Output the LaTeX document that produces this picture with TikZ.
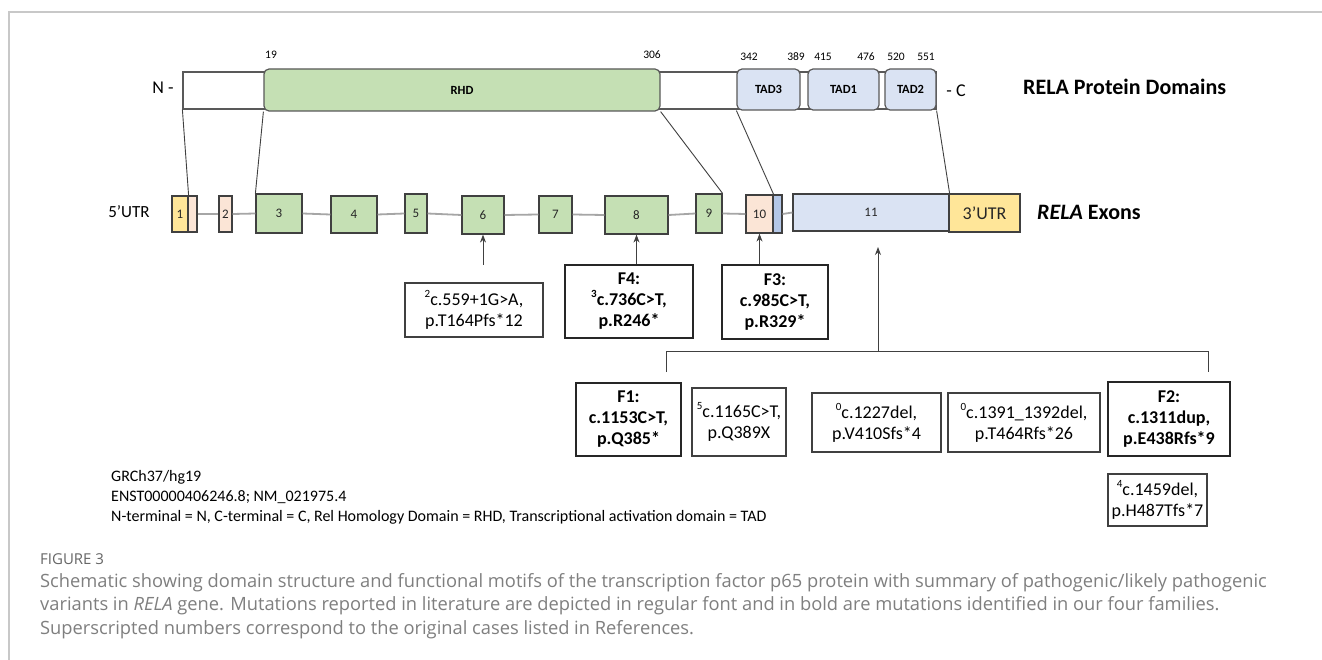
\documentclass[tikz,border=0pt]{standalone}
\usepackage{fontspec}
\setmainfont{Carlito}
\newfontfamily\capfont{Open Sans}
\usetikzlibrary{arrows.meta}

\definecolor{exgreen}{HTML}{C5E0B4}
\definecolor{exblue}{HTML}{DAE3F3}
\definecolor{exbluedark}{HTML}{B4C7E7}
\definecolor{expink}{HTML}{FBE5D6}
\definecolor{exyellow}{HTML}{FFE699}
\definecolor{edge}{HTML}{404040}
\definecolor{domedge}{HTML}{595959}
\definecolor{introngray}{HTML}{A6A6A6}
\definecolor{framegray}{HTML}{C8C8C8}
\definecolor{capgray}{HTML}{7F7F7F}

\newcommand\refno[1]{\raisebox{0.45em}{\fontsize{11}{11}\selectfont #1}}

\begin{document}
\begin{tikzpicture}[x=1pt,y=-1pt,
  exon/.style={draw=edge, line width=1.2pt, inner sep=0pt,
    font=\fontsize{13}{13}\selectfont, text=black!85},
  dom/.style={draw=domedge, fill=exblue, rounded corners=5pt, line width=1.2pt,
    inner sep=0pt, font=\bfseries\fontsize{12.5}{13}\selectfont},
  mut/.style={draw=edge, line width=1.1pt, align=center, inner sep=0pt,
    font=\fontsize{18}{21}\selectfont},
  fam/.style={mut, draw=black!85, line width=1.6pt,
    font=\bfseries\fontsize{18}{21}\selectfont},
  link/.style={draw=edge, line width=0.9pt},
  arr/.style={link, -{Stealth[length=8pt,width=6pt]}},
  num/.style={font=\fontsize{11.5}{12}\selectfont, inner sep=0pt},
  intron/.style={draw=introngray, line width=1.8pt},
  note/.style={anchor=west, inner sep=0pt, font=\fontsize{16}{19}\selectfont},
  captext/.style={anchor=west, inner sep=0pt, text=capgray,
    font=\capfont\fontsize{18.3}{21}\selectfont}]

\useasboundingbox (0,0) rectangle (1322,660);
\fill[white] (0,0) rectangle (1322,660);
% page frame
\draw[framegray, line width=1.5pt] (9,660) -- (9,12) -- (1322,12);

% ---------- protein domains ----------
\node[draw=domedge, fill=white, line width=1.2pt, minimum width=753pt,
  minimum height=37pt, inner sep=0pt] (bar) at (559.5,90.5) {};
\node[dom, fill=exgreen, minimum width=396pt, minimum height=42pt] (rhd) at (462,90) {RHD};
\node[dom, minimum width=63pt, minimum height=41pt] (tad3) at (768.5,89.5) {TAD3};
\node[dom, minimum width=71pt, minimum height=41pt] (tad1) at (843.5,89.5) {TAD1};
\node[dom, minimum width=51pt, minimum height=41pt] (tad2) at (910.5,89.5) {TAD2};

\node[font=\fontsize{18}{18}\selectfont, inner sep=0pt] (nterm) at (163,88) {N -};
\node[font=\fontsize{18}{18}\selectfont, inner sep=0pt] (cterm) at (956,91) {- C};
\node[anchor=west, inner sep=0pt, font=\bfseries\fontsize{22}{22}\selectfont] (ptitle)
  at (1023,87) {RELA Protein Domains};

\node[num] (p19)  at (271,55) {19};
\node[num] (p306) at (652,55) {306};
\node[num] (p342) at (749,57) {342};
\node[num] (p389) at (796,57) {389};
\node[num] (p415) at (823,57) {415};
\node[num] (p476) at (866,57) {476};
\node[num] (p520) at (896,57) {520};
\node[num] (p551) at (926,57) {551};

% ---------- exons ----------
\node[exon, fill=exyellow, minimum width=16pt, minimum height=36pt] (e1a) at (180,214) {1};
\node[exon, fill=expink, minimum width=9pt, minimum height=36pt] (e1b) at (192.5,214) {};
\node[exon, fill=expink, minimum width=13pt, minimum height=36pt] (e2) at (225.5,214) {2};
\node[exon, fill=exgreen, minimum width=46pt, minimum height=39pt] (e3) at (279,213.5) {3};
\node[exon, fill=exgreen, minimum width=46pt, minimum height=37pt] (e4) at (354,214.5) {4};
\node[exon, fill=exgreen, minimum width=22pt, minimum height=39pt] (e5) at (416,213.5) {5};
\node[exon, fill=exgreen, minimum width=42pt, minimum height=38pt] (e6) at (483,215) {6};
\node[exon, fill=exgreen, minimum width=33pt, minimum height=37pt] (e7) at (555.5,214.5) {7};
\node[exon, fill=exgreen, minimum width=63pt, minimum height=38pt] (e8) at (636.5,215) {8};
\node[exon, fill=exgreen, minimum width=26pt, minimum height=39pt] (e9) at (709,213.5) {9};
\node[exon, fill=expink, minimum width=27pt, minimum height=38pt] (e10a) at (759.5,214) {10};
\node[exon, fill=exbluedark, minimum width=9pt, minimum height=38pt] (e10b) at (777.5,214) {};
\node[exon, fill=exblue, minimum width=156pt, minimum height=37pt] (e11) at (871,212.5) {11};
\node[exon, fill=exyellow, minimum width=71pt, minimum height=38pt,
  font=\fontsize{18}{18}\selectfont] (utr3) at (984.5,213) {3’UTR};

% introns
\draw[intron] (e1b.east) -- (e2.west);
\draw[intron] (e2.east) -- (e3.west);
\draw[intron] (e3.east) -- (e4.west);
\draw[intron] (e4.east) -- (e5.west);
\draw[intron] (e5.east) -- (e6.west);
\draw[intron] (e6.east) -- (e7.west);
\draw[intron] (e7.east) -- (e8.west);
\draw[intron] (e8.east) -- (e9.west);
\draw[intron] (e9.east) -- (e10a.west);
\draw[intron] (e10b.east) -- (e11.west);

\node[font=\fontsize{17}{17}\selectfont, inner sep=0pt] (utr5) at (129,212) {5’UTR};
\node[anchor=west, inner sep=0pt, font=\bfseries\fontsize{22}{22}\selectfont] (etitle)
  at (1037,212) {\textit{RELA} Exons};

% domain-to-exon correspondences
\draw[link] (bar.south west) -- (e1a.north east);
\draw[link] (rhd.south west) -- (e3.north west);
\draw[link] (rhd.south east) -- (e9.north east);
\draw[link] (tad3.south west) -- (e10a.north east);
\draw[link] (tad2.south east) -- (e11.north east);

% ---------- variants ----------
\node[mut, minimum width=138pt, minimum height=54pt] (m6) at (474,310)
  {\refno{2}c.559+1G>A,\\p.T164Pfs*12};
\node[fam, minimum width=128pt, minimum height=73pt] (f4) at (629,301.5)
  {F4:\\\refno{3}c.736C>T,\\p.R246*};
\node[fam, minimum width=106pt, minimum height=74pt] (f3) at (775,302)
  {F3:\\c.985C>T,\\p.R329*};

\coordinate (a6) at (483,265);
\draw[arr] (a6) -- (e6.south);
\draw[arr] (f4.north -| e8.south) -- (e8.south);
\draw[arr] (f3.north -| e10a.south) -- (e10a.south);

\node[fam, minimum width=105pt, minimum height=73pt] (f1) at (628.5,419.5)
  {F1:\\c.1153C>T,\\p.Q385*};
\node[mut, minimum width=94pt, minimum height=68pt] (m5) at (739,422)
  {\refno{5}c.1165C>T,\\p.Q389X};
\node[mut, minimum width=129pt, minimum height=59pt] (m0a) at (876.5,422.5)
  {\refno{0}c.1227del,\\p.V410Sfs*4};
\node[mut, minimum width=152pt, minimum height=59pt] (m0b) at (1024,422.5)
  {\refno{0}c.1391\_1392del,\\p.T464Rfs*26};
\node[fam, minimum width=122pt, minimum height=74pt] (f2) at (1169,419)
  {F2:\\c.1311dup,\\p.E438Rfs*9};
\node[mut, minimum width=99pt, minimum height=52pt] (m4) at (1157.5,500)
  {\refno{4}c.1459del,\\p.H487Tfs*7};

% bracket gathering the exon 11 variants
\coordinate (v11) at (878,351);
\coordinate (t11) at (878,247);
\coordinate (bl) at (666,372);
\coordinate (br) at (1208,372);
\draw[link] (bl) -- (bl |- v11) -- (br |- v11) -- (br);
\draw[arr] (v11) -- (t11);

% ---------- notes ----------
\node[note] (n1) at (111,477) {GRCh37/hg19};
\node[note] (n2) at (111,497) {ENST00000406246.8; NM\_021975.4};
\node[note] (n3) at (111,517) {N-terminal = N, C-terminal = C, Rel Homology Domain = RHD, Transcriptional activation domain = TAD};

% ---------- caption ----------
\node[captext, text=black!60, font=\capfont\fontsize{15}{15}\selectfont] (fig) at (40,559) {FIGURE 3};
\node[captext] (c1) at (40,583) {Schematic showing domain structure and functional motifs of the transcription factor p65 protein with summary of pathogenic/likely pathogenic};
\node[captext] (c2) at (40,606) {variants in \textit{RELA} gene. Mutations reported in literature are depicted in regular font and in bold are mutations identified in our four families.};
\node[captext] (c3) at (40,630) {Superscripted numbers correspond to the original cases listed in References.};
\end{tikzpicture}
\end{document}
